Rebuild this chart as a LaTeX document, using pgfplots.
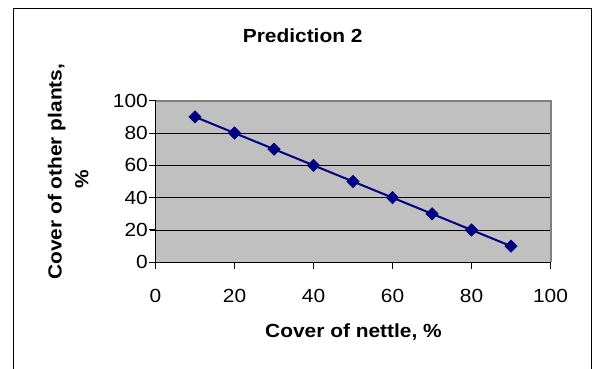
\documentclass[border=0pt]{standalone}
\usepackage{pgfplots}
\pgfplotsset{compat=1.18}
\usepackage{fontspec}
\setmainfont{Liberation Sans}[FakeStretch=1.1]
\definecolor{navy}{HTML}{000080}
\definecolor{plotgray}{HTML}{C0C0C0}
\definecolor{bordergray}{HTML}{808080}
\newcommand{\chartfont}{\fontsize{19bp}{22bp}\selectfont}
\begin{document}
\begin{tikzpicture}[x=1bp,y=1bp]
\useasboundingbox (0,0) rectangle (592,368);
\fill[white] (0,0) rectangle (592,368);
\draw[black, line width=0.9bp] (13,-5) -- (13,360) -- (591,360) -- (591,-5);
\begin{axis}[
  at={(155.5bp,105.7bp)}, anchor=south west,
  scale only axis, width=395bp, height=161.6bp,
  xmin=0, xmax=100, ymin=0, ymax=100,
  axis x line*=bottom, axis y line*=left,
  xtick={0,20,...,100}, ytick={0,20,...,100},
  tick align=outside, major tick length=6bp,
  tick style={draw=black, line width=0.8bp},
  axis line style={draw=black, line width=0.9bp},
  axis background/.style={fill=plotgray},
  ymajorgrids, grid style={draw=black, line width=0.8bp},
  ticklabel style={font=\chartfont, inner sep=0pt},
  xticklabel style={yshift=-21bp},
  yticklabel style={xshift=-1.5bp},
  /pgf/number format/assume math mode=true,
  clip=false,
]
\addplot[navy, line width=2bp, mark=square*, mark size=4.4bp,
  mark options={rotate=45, fill=navy, draw=navy, line width=0.5bp}]
  coordinates {(10,90) (20,80) (30,70) (40,60) (50,50) (60,40) (70,30) (80,20) (90,10)};
\draw[bordergray, line width=2bp] (rel axis cs:0,1) -- (rel axis cs:1,1) -- (rel axis cs:1,0);
\draw[black, line width=0.9bp] (rel axis cs:0,1) -- (rel axis cs:0,0) -- (rel axis cs:1,0);
\pgfplotsinvokeforeach{0,20,40,60,80,100}{
  \coordinate (xt#1) at (axis cs:#1,0);
  \coordinate (yt#1) at (axis cs:0,#1);
}
\end{axis}
\foreach \v in {0,20,40,60,80,100} {
  \draw[black, line width=1bp] (xt\v) -- ++(0,-6.5);
  \draw[black, line width=1bp] (yt\v) -- ++(-6.5,0);
}
\node[anchor=base, font=\chartfont\bfseries] at (302.7,325.3) {Prediction 2};
\node[anchor=base, font=\chartfont\bfseries] at (353.5,30.3) {Cover of nettle, \%};
\node[anchor=base, rotate=90, font=\chartfont\bfseries] at (61.7,196.3) {Cover of other plants,};
\node[anchor=base, rotate=90, font=\chartfont\bfseries] at (88.3,188.8) {\%};
\end{tikzpicture}
\end{document}
